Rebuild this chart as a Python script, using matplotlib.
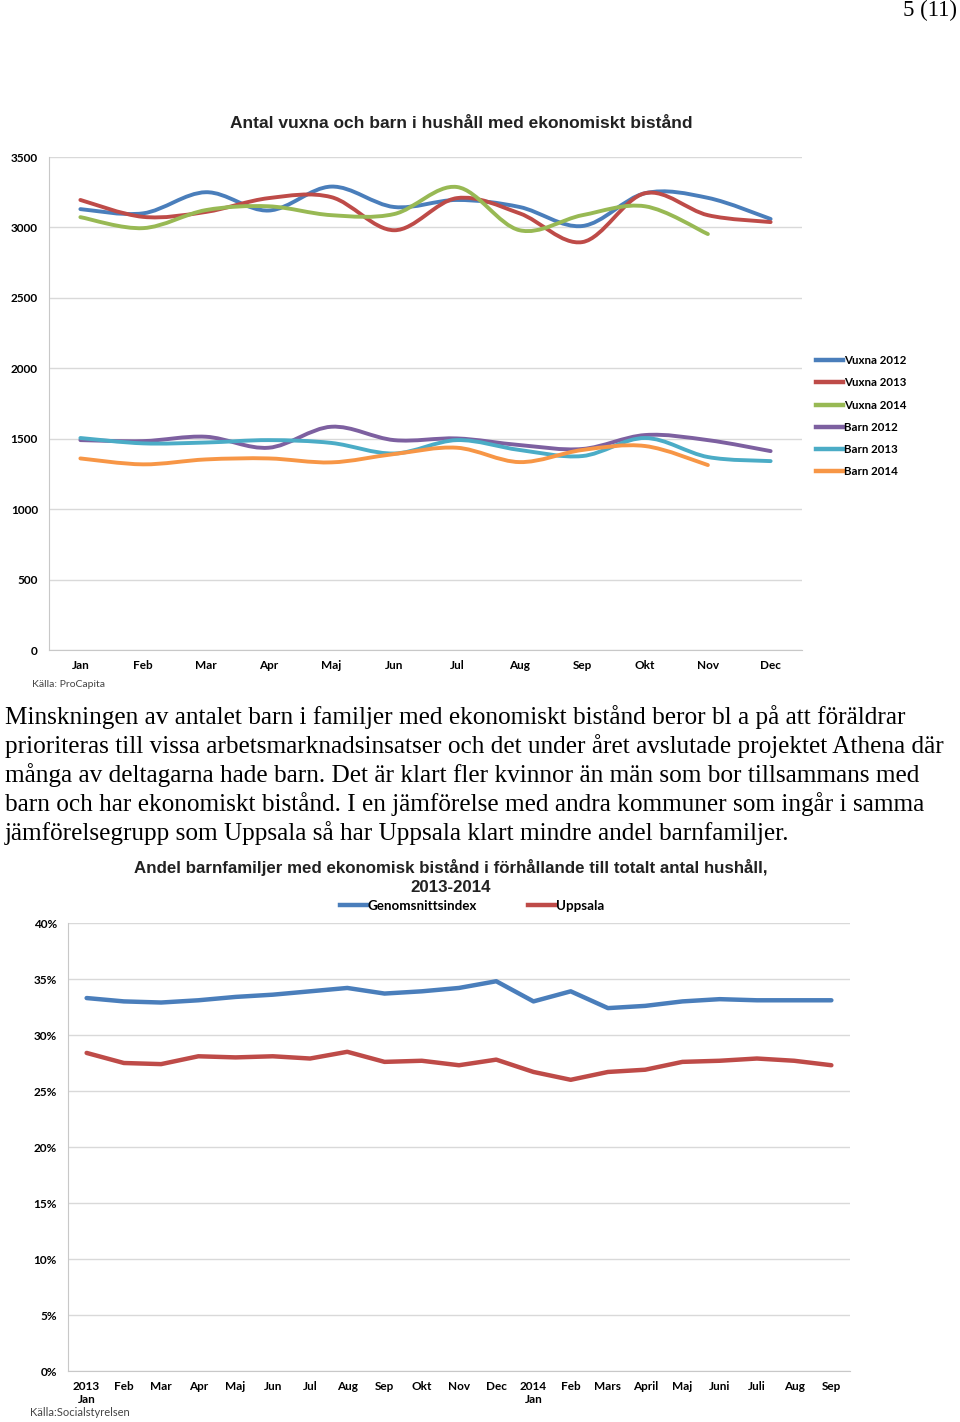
import matplotlib
matplotlib.use("Agg")
import matplotlib.pyplot as plt
import numpy as np
from matplotlib.path import Path
from matplotlib.patches import PathPatch
from matplotlib.lines import Line2D

# --- data, top chart (Antal vuxna och barn) ---
months = ["Jan", "Feb", "Mar", "Apr", "Maj", "Jun", "Jul", "Aug", "Sep", "Okt", "Nov", "Dec"]
vuxna_2012 = [3130, 3100, 3250, 3120, 3290, 3145, 3195, 3145, 3010, 3243, 3210, 3060]
vuxna_2013 = [3195, 3075, 3110, 3208, 3215, 2980, 3208, 3100, 2896, 3243, 3087, 3038]
vuxna_2014 = [3073, 2995, 3123, 3150, 3087, 3095, 3287, 2980, 3087, 3150, 2953]
barn_2012 = [1490, 1483, 1514, 1436, 1585, 1490, 1502, 1455, 1427, 1526, 1490, 1412]
barn_2013 = [1505, 1467, 1473, 1490, 1470, 1395, 1490, 1420, 1377, 1505, 1370, 1341]
barn_2014 = [1360, 1318, 1353, 1360, 1332, 1391, 1436, 1334, 1420, 1448, 1313]
top_names = ["Vuxna 2012", "Vuxna 2013", "Vuxna 2014", "Barn 2012", "Barn 2013", "Barn 2014"]
top_series = [vuxna_2012, vuxna_2013, vuxna_2014, barn_2012, barn_2013, barn_2014]
top_colors = ["#4A7EBB", "#BE4B48", "#98B954", "#7D60A0", "#4BACC6", "#F79646"]

# --- data, bottom chart (Andel barnfamiljer) ---
periods = ["2013\nJan", "Feb", "Mar", "Apr", "Maj", "Jun", "Jul", "Aug", "Sep", "Okt", "Nov", "Dec",
           "2014\nJan", "Feb", "Mars", "April", "Maj", "Juni", "Juli", "Aug", "Sep"]
genomsnitt = [33.3, 33.0, 32.9, 33.1, 33.4, 33.6, 33.9, 34.2, 33.7, 33.9, 34.2, 34.8,
              33.0, 33.9, 32.4, 32.6, 33.0, 33.2, 33.1, 33.1, 33.1]
uppsala = [28.4, 27.5, 27.4, 28.1, 28.0, 28.1, 27.9, 28.5, 27.6, 27.7, 27.3, 27.8,
           26.7, 26.0, 26.7, 26.9, 27.6, 27.7, 27.9, 27.7, 27.3]

paragraph = [
    "Minskningen av antalet barn i familjer med ekonomiskt bistånd beror bl a på att föräldrar",
    "prioriteras till vissa arbetsmarknadsinsatser och det under året avslutade projektet Athena där",
    "många av deltagarna hade barn. Det är klart fler kvinnor än män som bor tillsammans med",
    "barn och har ekonomiskt bistånd. I en jämförelse med andra kommuner som ingår i samma",
    "jämförelsegrupp som Uppsala så har Uppsala klart mindre andel barnfamiljer.",
]

W, H = 960, 1422
fig = plt.figure(figsize=(W / 100, H / 100), dpi=100)


def fx(x):
    return x / W


def fy(y):
    return 1 - y / H


def smooth_path(xs, ys):
    # excel-like smoothed line: cubic bezier segments (catmull-rom control points)
    pts = np.column_stack([xs, ys]).astype(float)
    verts = [pts[0]]
    codes = [Path.MOVETO]
    n = len(pts)
    for i in range(n - 1):
        p0 = pts[i - 1] if i > 0 else pts[i]
        p1 = pts[i]
        p2 = pts[i + 1]
        p3 = pts[i + 2] if i + 2 < n else pts[i + 1]
        c1 = p1 + (p2 - p0) / 6
        c2 = p2 - (p3 - p1) / 6
        verts += [c1, c2, p2]
        codes += [Path.CURVE4] * 3
    return Path(verts, codes)


tick_font = dict(family="Lato", weight="bold", size=8.5)
grid_c = "#D9D9D9"

# ---------------- top chart ----------------
ax1 = fig.add_axes([fx(49), fy(650), fx(802) - fx(49), fy(157) - fy(650)])
for s, c in zip(top_series, top_colors):
    p = smooth_path(np.arange(len(s)), s)
    ax1.add_patch(PathPatch(p, fill=False, edgecolor=c, lw=2.8, capstyle="round", joinstyle="round"))
ax1.set_xlim(-0.5, 11.5)
ax1.set_ylim(0, 3500)
ax1.set_yticks(np.arange(0, 3501, 500))
ax1.set_xticks(range(len(months)))
ax1.set_xticklabels(months)
ax1.yaxis.grid(True, color=grid_c, lw=1)
ax1.set_axisbelow(True)
for sp in ["top", "right"]:
    ax1.spines[sp].set_visible(False)
ax1.spines["left"].set_color("#C8C8C8")
ax1.spines["bottom"].set_color("#C8C8C8")
ax1.tick_params(length=0, pad=8)
ax1.tick_params(axis="x", pad=7)
for lab in ax1.get_xticklabels() + ax1.get_yticklabels():
    lab.set_fontproperties(matplotlib.font_manager.FontProperties(**tick_font))

handles = [Line2D([], [], color=c, lw=3.2) for c in top_colors]
fig.legend(handles, top_names, loc="upper left", bbox_to_anchor=(fx(816), fy(355)),
           frameon=False, prop=dict(family="Lato", weight="bold", size=8.3),
           handlelength=2.3, handletextpad=0.15, labelspacing=0.98, borderpad=0, borderaxespad=0)

fig.text(fx(461), fy(124), "Antal vuxna och barn i hushåll med ekonomiskt bistånd",
         ha="center", va="center", family="Liberation Sans", weight="bold", size=12.5, color="#222222")
fig.text(fx(32), fy(685), "Källa: ProCapita", ha="left", va="center", family="Lato", size=7.5, color="#444444")

# page number + paragraph
fig.text(fx(957), fy(10), "5 (11)", ha="right", va="center", family="Liberation Serif", size=16.5)
for i, line in enumerate(paragraph):
    fig.text(fx(5), fy(717 + 29 * i), line, ha="left", va="center", family="Liberation Serif", size=18.2)

# ---------------- bottom chart ----------------
ax2 = fig.add_axes([fx(68), fy(1371), fx(850) - fx(68), fy(923) - fy(1371)])
xs = np.arange(len(periods))
ax2.plot(xs, genomsnitt, color="#4A7EBB", lw=3.2, solid_joinstyle="round", solid_capstyle="round")
ax2.plot(xs, uppsala, color="#BE4B48", lw=3.2, solid_joinstyle="round", solid_capstyle="round")
ax2.set_xlim(-0.5, 20.5)
ax2.set_ylim(0, 40)
ax2.set_yticks(np.arange(0, 41, 5))
ax2.set_yticklabels([f"{v}%" for v in range(0, 41, 5)])
ax2.set_xticks(xs)
ax2.set_xticklabels(periods, va="top", linespacing=1.3)
ax2.yaxis.grid(True, color=grid_c, lw=1)
ax2.set_axisbelow(True)
for sp in ["top", "right"]:
    ax2.spines[sp].set_visible(False)
ax2.spines["left"].set_color("#C8C8C8")
ax2.spines["bottom"].set_color("#C8C8C8")
ax2.tick_params(length=0, pad=8)
ax2.tick_params(axis="x", pad=7)
for lab in ax2.get_xticklabels() + ax2.get_yticklabels():
    lab.set_fontproperties(matplotlib.font_manager.FontProperties(**tick_font))
    lab.set_linespacing(1.3)

fig.text(fx(451), fy(867), "Andel barnfamiljer med ekonomisk bistånd i förhållande till totalt antal hushåll,",
         ha="center", va="center", family="Liberation Sans", weight="bold", size=12.2, color="#222222")
fig.text(fx(451), fy(887), "2013-2014",
         ha="center", va="center", family="Liberation Sans", weight="bold", size=12.2, color="#222222")
h2 = [Line2D([], [], color="#4A7EBB", lw=3.2), Line2D([], [], color="#BE4B48", lw=3.2)]
fig.legend(h2, ["Genomsnittsindex", "Uppsala"], loc="center left", bbox_to_anchor=(fx(340), fy(906)),
           ncol=2, frameon=False, prop=dict(family="Lato", weight="bold", size=9.6),
           handlelength=2.0, handletextpad=0.1, columnspacing=3.8, borderpad=0, borderaxespad=0)
fig.text(fx(30), fy(1413), "Källa:Socialstyrelsen", ha="left", va="center", family="Lato", size=8, color="#444444")

fig.savefig("out.png", dpi=100)
